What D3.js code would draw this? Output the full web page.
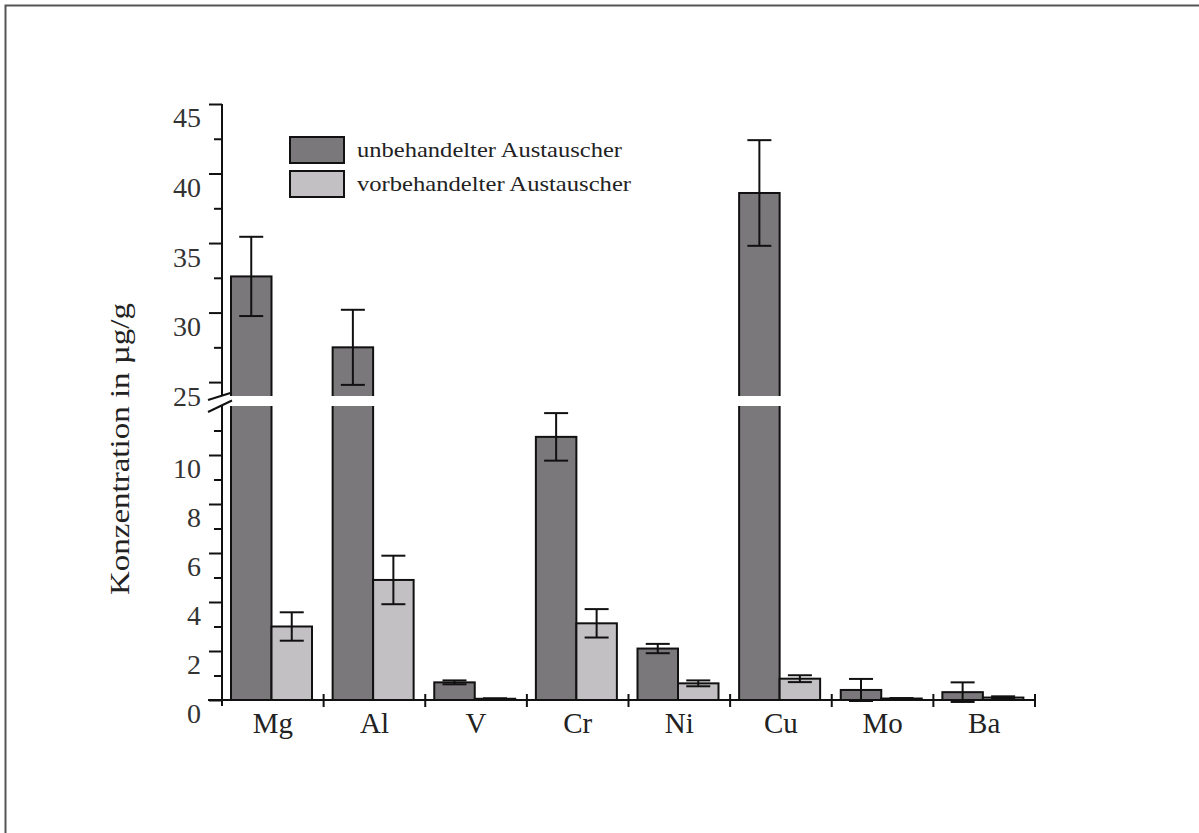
<!DOCTYPE html>
<html>
<head>
<meta charset="utf-8">
<script src="https://cdn.jsdelivr.net/npm/d3@7"></script>
<style>
  html, body { margin: 0; padding: 0; background: #fff; }
  svg { display: block; }
  text { font-family: "Liberation Serif", "Times New Roman", serif; }
</style>
</head>
<body>
<svg id="chart" width="1199" height="833"></svg>
<script>
// Element concentrations on the ion exchanger (µg/g)
const categories = ["Mg", "Al", "V", "Cr", "Ni", "Cu", "Mo", "Ba"];
const seriesNames = ["unbehandelter Austauscher", "vorbehandelter Austauscher"];
const untreated    = [32.6, 27.5, 0.72, 10.74, 2.1, 38.6, 0.41, 0.32];
const untreatedErr = [2.85, 2.7, 0.08, 0.97, 0.19, 3.8, 0.45, 0.4];
const pretreated    = [3.0, 4.9, 0.05, 3.13, 0.68, 0.87, 0.06, 0.1];
const pretreatedErr = [0.58, 0.99, 0.02, 0.58, 0.12, 0.14, 0.02, 0.05];
const lowerTicks = [0, 1, 2, 3, 4, 5, 6, 7, 8, 9, 10, 11];
const upperTicks = [25, 27.5, 30, 32.5, 35, 37.5, 40, 42.5, 45];

const colors = ["#7b787b", "#c2c0c2"];

const svg = d3.select("#chart");

// frame
svg.append("path")
  .attr("d", "M5.5,833 V5.5 H1199")
  .attr("fill", "none").attr("stroke", "#555").attr("stroke-width", 2);

// broken value axis: lower segment 0–12, upper segment 24–45
const yLow = d3.scaleLinear().domain([0, 12]).range([700, 406]);
const yHigh = d3.scaleLinear().domain([24, 45]).range([396, 104]);
const y = v => v <= 12 ? yLow(v) : yHigh(v);

const x0 = d3.scaleBand().domain(categories).range([222, 1035]).padding(0);
const x1 = d3.scaleBand().domain([0, 1]).range([9, 90]).padding(0);

const rows = categories.map((c, i) => ({
  cat: c,
  vals: [
    { s: 0, v: untreated[i], e: untreatedErr[i] },
    { s: 1, v: pretreated[i], e: pretreatedErr[i] }
  ]
}));

const groups = svg.append("g").selectAll("g")
  .data(rows).join("g")
  .attr("transform", d => `translate(${x0(d.cat)},0)`);

// bars
groups.selectAll("rect")
  .data(d => d.vals).join("rect")
  .attr("x", d => x1(d.s))
  .attr("width", x1.bandwidth())
  .attr("y", d => y(d.v))
  .attr("height", d => yLow(0) - y(d.v))
  .attr("fill", d => colors[d.s])
  .attr("stroke", "#111")
  .attr("stroke-width", 2);

// axis break gap across tall bars
groups.selectAll("rect.gap")
  .data(d => d.vals.filter(v => v.v > 12)).join("rect")
  .attr("class", "gap")
  .attr("x", d => x1(d.s) - 2)
  .attr("width", x1.bandwidth() + 4)
  .attr("y", yHigh(24))
  .attr("height", yLow(12) - yHigh(24))
  .attr("fill", "#fff");

// error bars
const cap = 12;
const eb = groups.selectAll("g.err")
  .data(d => d.vals).join("g")
  .attr("class", "err")
  .attr("transform", d => `translate(${x1(d.s) + x1.bandwidth() / 2},0)`)
  .attr("stroke", "#111").attr("stroke-width", 2);
eb.append("line").attr("y1", d => y(d.v - d.e)).attr("y2", d => y(d.v + d.e));
eb.append("line").attr("x1", -cap).attr("x2", cap)
  .attr("y1", d => y(d.v + d.e)).attr("y2", d => y(d.v + d.e));
eb.append("line").attr("x1", -cap).attr("x2", cap)
  .attr("y1", d => y(d.v - d.e)).attr("y2", d => y(d.v - d.e));

// y axes (ticks and labels)
function styleAxis(g, isMajor) {
  g.select(".domain").remove();
  g.selectAll(".tick line")
    .attr("stroke", "#111").attr("stroke-width", 2)
    .attr("x2", d => isMajor(d) ? -13 : -8);
  g.selectAll(".tick text")
    .attr("x", -21)
    .attr("dy", "0.82em")
    .attr("fill", "#333")
    .style("font-size", "28px");
}
const axisX = 222;
svg.append("g")
  .attr("transform", `translate(${axisX},0)`)
  .call(d3.axisLeft(yLow).tickValues(lowerTicks).tickSizeOuter(0)
    .tickFormat(d => d % 2 === 0 ? d : ""))
  .call(g => styleAxis(g, d => d % 2 === 0));
svg.append("g")
  .attr("transform", `translate(${axisX},0)`)
  .call(d3.axisLeft(yHigh).tickValues(upperTicks).tickSizeOuter(0)
    .tickFormat(d => d % 5 === 0 ? d : ""))
  .call(g => styleAxis(g, d => d % 5 === 0));

// axis spine segments
svg.append("line").attr("x1", axisX).attr("x2", axisX)
  .attr("y1", yHigh(45)).attr("y2", yHigh(24) - 1)
  .attr("stroke", "#111").attr("stroke-width", 2);
svg.append("line").attr("x1", axisX).attr("x2", axisX)
  .attr("y1", yLow(12)).attr("y2", yLow(0) + 6)
  .attr("stroke", "#111").attr("stroke-width", 2);

// break marks
[[400, 392.5], [412, 400.5]].forEach(([a, b]) => {
  svg.append("line").attr("x1", 208).attr("y1", a).attr("x2", 232).attr("y2", b)
    .attr("stroke", "#111").attr("stroke-width", 2);
});

// x axis
svg.append("line").attr("x1", 208).attr("x2", x0.range()[1])
  .attr("y1", yLow(0)).attr("y2", yLow(0))
  .attr("stroke", "#111").attr("stroke-width", 2);
const bounds = categories.map(c => x0(c)).concat([x0.range()[1]]).slice(1);
svg.append("g").selectAll("line")
  .data(bounds).join("line")
  .attr("x1", d => d).attr("x2", d => d)
  .attr("y1", yLow(0) - 6).attr("y2", yLow(0) + 7)
  .attr("stroke", "#111").attr("stroke-width", 2);

const xAxis = svg.append("g")
  .attr("transform", `translate(0,${yLow(0)})`)
  .call(d3.axisBottom(x0).tickSize(0).tickPadding(0));
xAxis.select(".domain").remove();
xAxis.selectAll(".tick text")
  .attr("dy", null).attr("y", 33)
  .attr("fill", "#222")
  .style("font-size", "29px");

// y axis title
svg.append("text")
  .attr("transform", "translate(129,449) rotate(-90)")
  .attr("text-anchor", "middle")
  .attr("fill", "#222")
  .style("font-size", "27px")
  .attr("textLength", 292)
  .attr("lengthAdjust", "spacingAndGlyphs")
  .text("Konzentration in µg/g");

// legend
const legend = svg.append("g").attr("transform", "translate(290,137)");
const li = legend.selectAll("g").data(seriesNames).join("g")
  .attr("transform", (d, i) => `translate(0,${i * 34})`);
li.append("rect")
  .attr("width", 54).attr("height", 26)
  .attr("fill", (d, i) => colors[i])
  .attr("stroke", "#111").attr("stroke-width", 2);
li.append("text")
  .attr("x", 67).attr("y", 20)
  .attr("fill", "#222")
  .style("font-size", "22px")
  .attr("textLength", (d, i) => i === 0 ? 265 : 274)
  .attr("lengthAdjust", "spacingAndGlyphs")
  .text(d => d);
</script>
</body>
</html>
